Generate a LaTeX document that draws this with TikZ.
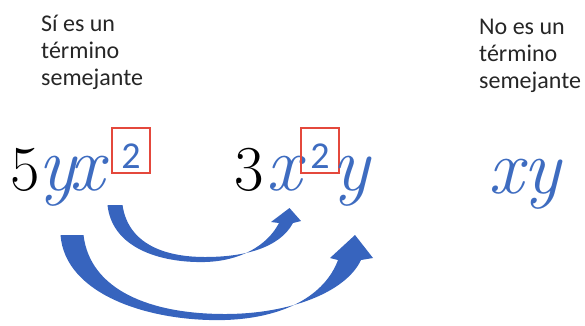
\documentclass[tikz,border=0pt]{standalone}
\usepackage{fontspec}
\newfontfamily\notefont{Carlito}
\usepackage{tikz}
\usetikzlibrary{calc}
\definecolor{termblue}{RGB}{62,108,192}
\definecolor{arrowblue}{RGB}{55,100,190}
\definecolor{boxred}{RGB}{228,72,60}

\begin{document}
\begin{tikzpicture}[x=1pt, y=-1pt,
  note/.style={font=\notefont\fontsize{24}{27}\selectfont, text=black!85, align=left, anchor=north west, inner sep=0pt},
  coef/.style={font=\fontsize{64}{64}\selectfont, anchor=base, inner sep=0pt},
  var/.style={font=\fontsize{78}{78}\selectfont\itshape, text=termblue, anchor=base, inner sep=0pt},
  expbox/.style={draw=boxred, line width=2.2pt, minimum width=38pt, minimum height=45pt, inner sep=0pt,
    text height=35pt, text depth=0pt, font=\notefont\fontsize{38}{38}\selectfont, text=termblue},
  swoosh/.style={fill=arrowblue}]
  \useasboundingbox (0,0) rectangle (585,325);
  % captions
  \node[note] (yes) at (41,15) {Sí es un\\término\\semejante};
  \node[note] (no) at (479,19) {No es un\\término\\semejante};
  % first term
  \node[coef] (five) at (25.5,190) {5};
  \node[var] (ya) at (57.5,190) {y};
  \node[var] (xa) at (87.5,190) {x};
  \node[expbox] (boxa) at (131,150.5) {2};
  % second term
  \node[coef] (three) at (249,190) {3};
  \node[var] (xb) at (284.5,190) {x};
  \node[expbox] (boxb) at (320,150.5) {2};
  \node[var] (yb) at (351,190) {y};
  % not alike
  \node[var] (xyc) at (524.5,193) {xy};
  % x goes to x
  \coordinate (xtail) at ($(xa.base)+(20,15)$);
  \coordinate (xtip) at ($(xb.base)+(5,18)$);
  \fill[swoosh] (xtail) .. controls (112,248) and (160,263) .. (205,262)
    .. controls (240,261) and (267,246) .. (279,223) -- (271,222) -- (xtip) -- (301,221) -- (293,223)
    .. controls (279,249) and (242,257) .. (205,257)
    .. controls (163,257) and (128,243) .. ($(xtail)+(15,0)$) -- cycle;
  % y goes to y
  \coordinate (ytail) at ($(ya.base)+(3,45)$);
  \coordinate (ytip) at ($(yb.base)+(4,45)$);
  \fill[swoosh] (ytail) .. controls (65,295) and (150,322) .. (225,320)
    .. controls (285,318) and (325,295) .. (338,260) -- (330,258) -- (ytip) -- (373,258) -- (361,260)
    .. controls (346,292) and (290,314) .. (225,314)
    .. controls (150,314) and (90,290) .. ($(ytail)+(23,0)$) -- cycle;
\end{tikzpicture}
\end{document}
